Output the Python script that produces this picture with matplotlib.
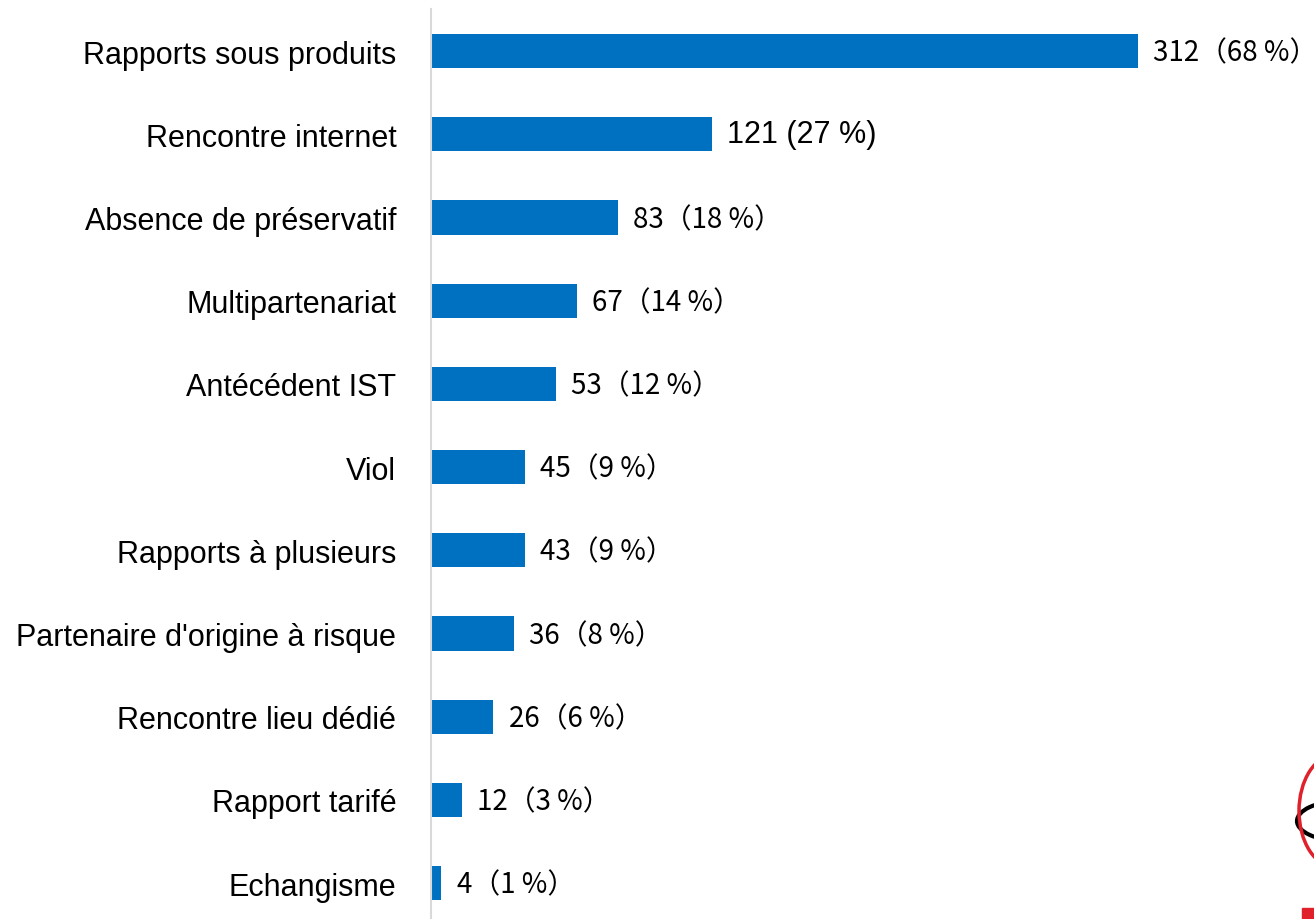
import matplotlib
matplotlib.use('Agg')
import matplotlib.pyplot as plt
from matplotlib.patches import Ellipse, Arc, Rectangle

categories = ['Rapports sous produits', 'Rencontre internet', 'Absence de préservatif',
              'Multipartenariat', 'Antécédent IST', 'Viol', 'Rapports à plusieurs',
              "Partenaire d'origine à risque", 'Rencontre lieu dédié', 'Rapport tarifé',
              'Echangisme']
counts = [312, 121, 83, 67, 53, 45, 43, 36, 26, 12, 4]
percents = [68, 27, 18, 14, 12, 9, 9, 8, 6, 3, 1]

bar_color = '#0070C0'
label_font = ['Liberation Sans', 'DejaVu Sans']
value_font = ['Noto Sans CJK JP', 'DejaVu Sans']

fig = plt.figure(figsize=(13.14, 9.2), dpi=100)
ax = fig.add_axes([431 / 1314, 0.0, 1 - 431 / 1314, 1 - 10 / 920])

# bar lengths follow the percentages
y = list(range(len(categories)))
ax.barh(y, percents, height=0.41, color=bar_color)
ax.set_ylim(len(categories) - 1 + 0.43, -0.505)
ax.set_xlim(0, 883 / 10.397)

ax.set_yticks(y)
ax.set_yticklabels(categories, fontsize=22, family=label_font)
ax.tick_params(axis='y', length=0, pad=25)
ax.set_xticks([])
for s in ['top', 'right', 'bottom']:
    ax.spines[s].set_visible(False)
ax.spines['left'].set_color('#d9d9d9')
ax.spines['left'].set_linewidth(1.5)

for i, (c, p) in enumerate(zip(counts, percents)):
    if i == 1:
        ax.annotate(f'{c} ({p} %)', (p, i), xytext=(11, 0), textcoords='offset points',
                    va='center', ha='left', fontsize=22, family=label_font)
    else:
        ax.annotate(f'{c}（{p} %）', (p, i), xytext=(11, -1), textcoords='offset points',
                    va='center', ha='left', fontsize=20, family=value_font)

# logo fragment in the bottom-right corner
ov = fig.add_axes([0, 0, 1, 1], facecolor='none')
ov.set_xlim(0, 1314)
ov.set_ylim(920, 0)
ov.axis('off')
ov.add_patch(Arc((1342, 822), 90, 40, theta1=95, theta2=265, color='black', lw=3))
ov.add_patch(Ellipse((1335, 812), 72, 112, fill=False, edgecolor='#e0202a', lw=2.5))
ov.add_patch(Rectangle((1302, 909), 12, 11, color='#e0202a'))

fig.savefig('out.png', dpi=100)
